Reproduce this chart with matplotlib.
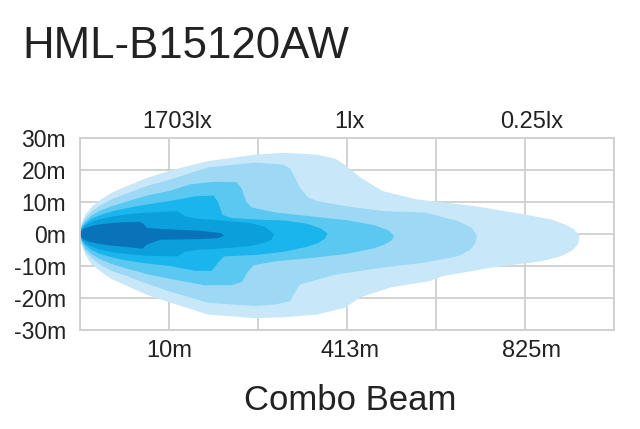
import matplotlib
matplotlib.use("Agg")
import matplotlib.pyplot as plt
import numpy as np

plt.rcParams['font.family'] = ['Liberation Sans', 'DejaVu Sans']

# beam contours: x in grid columns (0..6), y in metres
# each layer: upper edge left->right, lower edge right->left
l1_ux = [0, 0.02, 0.06, 0.13, 0.22, 0.35, 0.51, 0.75, 1.01, 1.44, 1.97, 2.28, 2.66, 2.87, 2.98, 3.15, 3.40, 3.79, 4.44, 5.0, 5.3, 5.45, 5.55, 5.61]
l1_uy = [0, 3.5, 6, 8.5, 10.5, 12.8, 14.8, 17.5, 19.8, 22.8, 24.8, 25.4, 24.8, 23.5, 21.5, 17.7, 13.4, 10.8, 8.7, 6.1, 4.5, 3.0, 1.5, -0.5]
l1_lx = [5.6, 5.53, 5.4, 5.19, 4.63, 4.07, 3.93, 3.49, 3.15, 2.98, 2.66, 2.3, 1.97, 1.44, 1.01, 0.75, 0.51, 0.35, 0.22, 0.13, 0.06, 0.02, 0]
l1_ly = [-3, -5.2, -7, -8.5, -10.5, -13.2, -14.7, -16.7, -19.8, -23, -25.2, -26, -26.3, -25.2, -21.4, -19, -16, -14, -11.5, -9.5, -6.5, -3.5, 0]

l2_ux = [0, 0.02, 0.06, 0.13, 0.22, 0.35, 0.51, 0.75, 1.01, 1.44, 1.97, 2.28, 2.36, 2.41, 2.47, 2.56, 2.66, 2.98, 3.43, 3.88, 4.25, 4.40, 4.46]
l2_uy = [0, 3, 5, 7, 8.8, 10.8, 12.5, 15, 17, 20.8, 22.3, 21.7, 20.5, 18, 14.5, 11.5, 10.3, 8.7, 7.1, 6.7, 4.0, 2.0, -0.5]
l2_lx = [4.44, 4.38, 4.25, 3.88, 3.40, 2.87, 2.47, 2.40, 2.36, 2.2, 1.97, 1.44, 1.01, 0.75, 0.51, 0.35, 0.22, 0.13, 0.06, 0.02, 0]
l2_ly = [-3, -5, -6.9, -8.9, -10.5, -12.7, -15.8, -19, -21, -22, -22.5, -21.5, -18, -15.5, -13, -11.5, -9.5, -7.5, -5.5, -3, 0]

l3_ux = [0, 0.02, 0.06, 0.13, 0.22, 0.35, 0.51, 0.75, 1.01, 1.24, 1.5, 1.76, 1.82, 1.87, 1.93, 2.2, 2.6, 3.0, 3.3, 3.46, 3.53]
l3_uy = [0, 2.5, 4, 5.8, 7.2, 8.6, 10, 12, 13.5, 15.5, 16.3, 16.2, 14, 10, 8.3, 6.7, 5.5, 4.3, 2.8, 1.2, -0.5]
l3_lx = [3.5, 3.42, 3.3, 3.0, 2.6, 2.2, 1.95, 1.88, 1.82, 1.7, 1.4, 1.01, 0.75, 0.51, 0.35, 0.22, 0.13, 0.06, 0.02, 0]
l3_ly = [-2, -3.3, -4.5, -6.2, -7.5, -8.5, -9.8, -12, -15, -16, -16, -14, -12.5, -10.7, -9.3, -7.8, -6.3, -4.5, -2.5, 0]

l4_ux = [0, 0.02, 0.06, 0.13, 0.22, 0.35, 0.51, 0.75, 1.01, 1.3, 1.5, 1.55, 1.6, 1.7, 2.0, 2.3, 2.55, 2.7, 2.78]
l4_uy = [0, 2, 3.3, 4.8, 5.8, 7, 8, 9.2, 10.3, 11.8, 12, 10, 6, 5, 4.5, 4.2, 3.2, 1.8, 0.2]
l4_lx = [2.75, 2.68, 2.55, 2.3, 2.0, 1.62, 1.55, 1.48, 1.3, 1.01, 0.75, 0.51, 0.35, 0.22, 0.13, 0.06, 0.02, 0]
l4_ly = [-1.5, -2.8, -4, -5.5, -6.5, -7, -9, -11.5, -11.5, -10, -9.2, -8.2, -7.2, -6.2, -5, -3.5, -2, 0]

l5_ux = [0, 0.02, 0.06, 0.13, 0.22, 0.35, 0.51, 0.75, 1.1, 1.18, 1.3, 1.6, 1.9, 2.08, 2.18]
l5_uy = [0, 1.6, 2.7, 3.8, 4.6, 5.4, 6.1, 6.7, 7.1, 5.5, 4.8, 4.2, 3.5, 2.2, 0]
l5_lx = [2.15, 2.06, 1.9, 1.6, 1.3, 1.18, 1.1, 0.75, 0.51, 0.35, 0.22, 0.13, 0.06, 0.02, 0]
l5_ly = [-1.8, -2.8, -3.8, -4.5, -5, -5.5, -7, -6.8, -6.2, -5.6, -4.8, -3.9, -2.8, -1.6, 0]

l6_ux = [0, 0.02, 0.06, 0.13, 0.22, 0.35, 0.5, 0.67, 0.72, 0.75, 0.9, 1.35, 1.58, 1.62]
l6_uy = [0, 1.2, 1.9, 2.5, 3.0, 3.4, 3.7, 3.8, 3.0, 1.9, 1.6, 1.0, 0.3, -0.5]
l6_lx = [1.55, 1.35, 0.9, 0.75, 0.7, 0.5, 0.35, 0.22, 0.13, 0.06, 0.02, 0]
l6_ly = [-1.3, -1.6, -1.8, -3.3, -4.6, -4.0, -3.6, -3.1, -2.6, -2.0, -1.2, 0]

layer_colors = ["#c8e8f9", "#9dd8f4", "#5ac8f0", "#19b5ec", "#0b9fdc", "#0873b8"]

y_ticks = [30, 20, 10, 0, -10, -20, -30]
y_labels = ["30m", "20m", "10m", "0m", "-10m", "-20m", "-30m"]
top_labels = ["1703lx", "1lx", "0.25lx"]
top_pos = [1.09, 3.03, 5.08]
bottom_labels = ["10m", "413m", "825m"]
bottom_pos = [1.0, 3.03, 5.07]

fig = plt.figure(figsize=(6.4, 4.29), dpi=100)
ax = fig.add_axes([80 / 640, 1 - 330 / 429, 534 / 640, 192 / 429])

layers = [(l1_ux, l1_uy, l1_lx, l1_ly), (l2_ux, l2_uy, l2_lx, l2_ly),
          (l3_ux, l3_uy, l3_lx, l3_ly), (l4_ux, l4_uy, l4_lx, l4_ly),
          (l5_ux, l5_uy, l5_lx, l5_ly), (l6_ux, l6_uy, l6_lx, l6_ly)]
for (ux, uy, lx, ly), c in zip(layers, layer_colors):
    ax.fill(ux + lx, uy + ly, color=c, lw=0, zorder=2)

ax.set_xlim(0, 6)
ax.set_ylim(-30, 30)
ax.set_xticks(range(7))
ax.set_yticks(y_ticks)
ax.set_yticklabels(y_labels, fontsize=16.5, color="#222222")
ax.set_xticklabels([])
ax.tick_params(length=0, pad=10)
ax.grid(True, color="#cfcfcf", lw=1.3, zorder=0)
ax.set_axisbelow(True)
for s in ax.spines.values():
    s.set_color("#cfcfcf")
    s.set_linewidth(1.3)

for lab, xp in zip(top_labels, top_pos):
    ax.text(xp, 31.5, lab, ha="center", va="bottom", fontsize=17, color="#222222")
for lab, xp in zip(bottom_labels, bottom_pos):
    ax.text(xp, -33, lab, ha="center", va="top", fontsize=17, color="#222222")

fig.text(22 / 640, 1 - 46 / 429, "HML-B15120AW", fontsize=31.5, ha="left", va="center", color="#222222")
fig.text(350 / 640, 1 - 400 / 429, "Combo Beam", fontsize=25, ha="center", va="center", color="#222222")

fig.savefig("out.png", dpi=100)
